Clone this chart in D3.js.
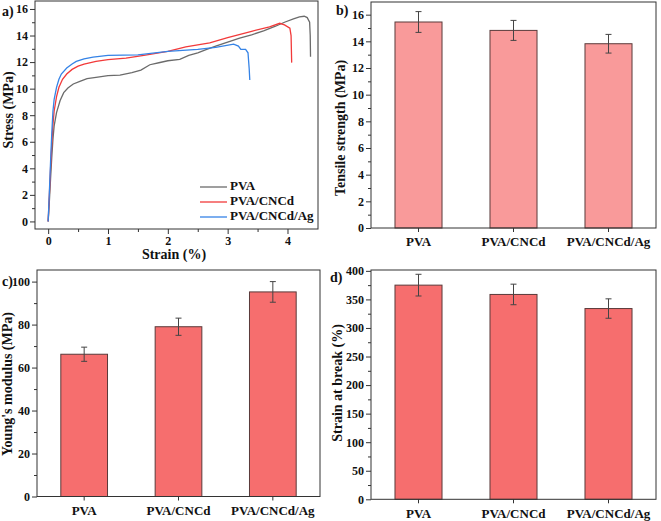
<!DOCTYPE html>
<html><head><meta charset="utf-8">
<script src="https://cdn.jsdelivr.net/npm/d3@7"></script>
<style>body{margin:0;background:#fff}svg{display:block}text{font-family:"Liberation Serif","Times New Roman",serif;font-weight:bold;fill:#111}</style>
</head><body><svg id="c" width="661" height="521"></svg>
<script>
// ---------- data ----------
const seriesNames = ["PVA", "PVA/CNCd", "PVA/CNCd/Ag"];
const curvePVA = [[0,0],[0.02,1.5],[0.04,3.2],[0.06,4.8],[0.08,6.2],[0.1,7.2],[0.14,8.2],[0.2,9.1],[0.26,9.7],[0.33,10.05],[0.42,10.35],[0.53,10.55],[0.65,10.75],[0.8,10.85],[1.0,10.98],[1.2,11.02],[1.4,11.2],[1.55,11.4],[1.7,11.8],[1.85,11.95],[2.0,12.1],[2.2,12.2],[2.35,12.5],[2.5,12.7],[2.65,12.95],[2.8,13.2],[3.0,13.5],[3.2,13.8],[3.4,14.05],[3.6,14.35],[3.8,14.7],[3.95,15.0],[4.1,15.25],[4.2,15.4],[4.28,15.45],[4.33,15.35],[4.37,15.0],[4.38,14.0],[4.385,12.4]];
const curveCNCd = [[0,0],[0.02,2],[0.04,4],[0.06,5.8],[0.08,7.3],[0.1,8.3],[0.14,9.4],[0.18,10.1],[0.24,10.7],[0.31,11.1],[0.4,11.45],[0.5,11.7],[0.6,11.85],[0.8,12.05],[1.0,12.18],[1.3,12.3],[1.6,12.5],[2.0,12.8],[2.3,13.15],[2.7,13.45],[3.0,13.84],[3.4,14.32],[3.7,14.65],[3.87,14.92],[3.95,14.8],[4.04,14.55],[4.06,14.0],[4.07,11.96]];
const curveAg = [[0,0],[0.02,2.2],[0.04,4.5],[0.06,6.6],[0.08,8.3],[0.1,9.2],[0.14,10.1],[0.18,10.7],[0.22,11.1],[0.31,11.55],[0.4,11.85],[0.47,12.05],[0.6,12.25],[0.75,12.38],[1.0,12.5],[1.5,12.55],[2.0,12.8],[2.5,12.95],[2.8,13.1],[3.1,13.35],[3.18,13.2],[3.22,12.95],[3.3,12.95],[3.34,12.7],[3.36,11.5],[3.37,10.65]];
const tensileStrength = [15.45, 14.82, 13.82];
const tensileErr = [0.78, 0.75, 0.7];
const youngsModulus = [66.2, 79.0, 95.2];
const youngsErr = [3.3, 4.0, 4.8];
const strainAtBreak = [375, 358.7, 334];
const strainErr = [19, 18, 17];
const strainTicks = [0,1,2,3,4];
const stressTicks = [0,2,4,6,8,10,12,14,16];
const tsTicks = [0,2,4,6,8,10,12,14,16];
const ymTicks = [0,20,40,60,80,100];
const sbTicks = [0,50,100,150,200,250,300,350,400];

const svg = d3.select("#c");
const curveColors = ["#6b6b6b", "#f23a3a", "#3583e6"];

function frame(g, x0, x1, y0, y1) {
  g.append("rect").attr("x", x0).attr("y", y0).attr("width", x1 - x0).attr("height", y1 - y0)
    .attr("fill", "none").attr("stroke", "#333").attr("stroke-width", 1);
}
function yAxis(g, y, x0, ticks, minor) {
  const ax = g.append("g").attr("transform", `translate(${x0},0)`)
    .call(d3.axisLeft(y).tickValues(ticks).tickSize(5).tickPadding(2).tickFormat(d3.format("d")));
  ax.select(".domain").remove();
  ax.selectAll("line").attr("stroke", "#333");
  ax.selectAll("text").style("font-size", "12px");
  const m = g.append("g").attr("transform", `translate(${x0},0)`)
    .call(d3.axisLeft(y).tickValues(minor).tickSize(3).tickFormat(""));
  m.select(".domain").remove(); m.selectAll("line").attr("stroke", "#333");
}
function xAxisLin(g, x, y0, ticks, minor) {
  const ax = g.append("g").attr("transform", `translate(0,${y0})`)
    .call(d3.axisBottom(x).tickValues(ticks).tickSize(5).tickPadding(2).tickFormat(d3.format("d")));
  ax.select(".domain").remove();
  ax.selectAll("line").attr("stroke", "#333");
  ax.selectAll("text").style("font-size", "12px");
  const m = g.append("g").attr("transform", `translate(0,${y0})`)
    .call(d3.axisBottom(x).tickValues(minor).tickSize(3).tickFormat(""));
  m.select(".domain").remove(); m.selectAll("line").attr("stroke", "#333");
}
function ytitle(g, txt, x, y) {
  g.append("text").attr("transform", `translate(${x},${y}) rotate(-90)`).attr("text-anchor", "middle")
    .attr("dominant-baseline", "middle").style("font-size", "14px").text(txt);
}
function panelLabel(g, txt, x, y) {
  g.append("text").attr("x", x).attr("y", y).style("font-size", "14px").text(txt);
}

// ---------- panel a ----------
{
  const g = svg.append("g");
  const L = 35, R = 318, T = 1, B = 229;
  const x = d3.scaleLinear().domain([-0.22, 4.51]).range([L, R]);
  const y = d3.scaleLinear().domain([-0.57, 16.6]).range([B, T]);
  const line = d3.line().x(d => x(d[0])).y(d => y(d[1]));
  [curvePVA, curveCNCd, curveAg].forEach((c, i) => {
    g.append("path").attr("d", line(c)).attr("fill", "none").attr("stroke", curveColors[i]).attr("stroke-width", 1.3);
  });
  frame(g, L, R, T, B);
  yAxis(g, y, L, stressTicks, d3.range(1, 17, 2));
  xAxisLin(g, x, B, strainTicks, [0.5,1.5,2.5,3.5]);
  ytitle(g, "Stress (MPa)", 10, 110);
  g.append("text").attr("x", 174).attr("y", 256).attr("text-anchor", "middle").attr("dominant-baseline", "middle")
    .style("font-size", "14px").text("Strain (%)");
  panelLabel(g, "a)", 2, 16);
  seriesNames.forEach((n, i) => {
    const ly = 187 + i * 15;
    g.append("line").attr("x1", 200).attr("x2", 227).attr("y1", ly).attr("y2", ly)
      .attr("stroke", curveColors[i]).attr("stroke-width", 1.3);
    g.append("text").attr("x", 230).attr("y", ly).attr("dominant-baseline", "middle")
      .style("font-size", "13px").text(n);
  });
}

// ---------- bar panels ----------
function barPanel(opt) {
  const g = svg.append("g");
  const { L, R, T, B } = opt;
  const x = d3.scaleBand().domain(seriesNames).range([L, R]).paddingInner(0.505).paddingOuter(0.2525);
  const y = d3.scaleLinear().domain(opt.ydom).range([B, T]);
  g.selectAll("rect.bar").data(opt.values).enter().append("rect").attr("class", "bar")
    .attr("x", (d, i) => x(seriesNames[i])).attr("width", x.bandwidth())
    .attr("y", d => y(d)).attr("height", d => y(0) - y(d))
    .attr("fill", opt.fill).attr("stroke", "#5a3a3a").attr("stroke-width", 1);
  opt.values.forEach((v, i) => {
    const cx = x(seriesNames[i]) + x.bandwidth() / 2;
    const e = opt.err[i];
    g.append("line").attr("x1", cx).attr("x2", cx).attr("y1", y(v + e)).attr("y2", y(v - e)).attr("stroke", "#444").attr("stroke-width", 1);
    [v + e, v - e].forEach(t => g.append("line").attr("x1", cx - 3).attr("x2", cx + 3).attr("y1", y(t)).attr("y2", y(t)).attr("stroke", "#444").attr("stroke-width", 1));
  });
  frame(g, L, R, T, B);
  yAxis(g, y, L, opt.ticks, opt.minor);
  const ax = g.append("g").attr("transform", `translate(0,${B})`)
    .call(d3.axisBottom(x).tickSize(4).tickPadding(5));
  ax.select(".domain").remove();
  ax.selectAll("line").attr("stroke", "#333");
  ax.selectAll("text").style("font-size", "13px");
  ytitle(g, opt.title, opt.tx, opt.ty);
  panelLabel(g, opt.label, opt.lx, opt.ly);
}
barPanel({ L: 371, R: 656, T: 2, B: 228, ydom: [0, 16.95], values: tensileStrength, err: tensileErr,
  ticks: tsTicks, minor: d3.range(1, 17, 2), fill: "#f99a9a", title: "Tensile strength (MPa)", tx: 342, ty: 128, label: "b)", lx: 336, ly: 15 });
barPanel({ L: 37, R: 320, T: 270, B: 496.5, ydom: [0, 105.4], values: youngsModulus, err: youngsErr,
  ticks: ymTicks, minor: d3.range(10, 101, 20), fill: "#f66e6e", title: "Young's modulus (MPa)", tx: 9, ty: 384, label: "c)", lx: 2, ly: 286 });
barPanel({ L: 371, R: 656, T: 270, B: 499.3, ydom: [0, 401.5], values: strainAtBreak, err: strainErr,
  ticks: sbTicks, minor: d3.range(25, 400, 50), fill: "#f66e6e", title: "Strain at break (%)", tx: 339, ty: 383, label: "d)", lx: 330, ly: 282 });
</script></body></html>
